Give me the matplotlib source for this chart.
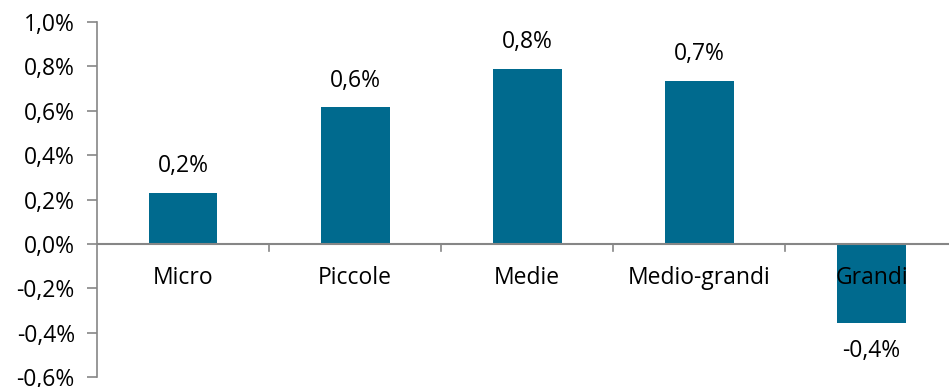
import matplotlib.pyplot as plt

categories = ["Micro", "Piccole", "Medie", "Medio-grandi", "Grandi"]
values = [0.23, 0.615, 0.79, 0.735, -0.355]
value_labels = ["0,2%", "0,6%", "0,8%", "0,7%", "-0,4%"]
y_ticks = [-0.6, -0.4, -0.2, 0.0, 0.2, 0.4, 0.6, 0.8, 1.0]
y_tick_labels = ["-0,6%", "-0,4%", "-0,2%", "0,0%", "0,2%", "0,4%", "0,6%", "0,8%", "1,0%"]

plt.rcParams['font.family'] = ['Open Sans', 'DejaVu Sans']
axis_grey = "#868686"
bar_color = "#006A8E"
fs = 16.5

fig = plt.figure(figsize=(9.49, 3.87), dpi=100)
ax = fig.add_axes([97 / 949, 10 / 387, 852 / 949, 355 / 387])

x = list(range(len(categories)))
ax.bar(x, values, width=0.4, color=bar_color, zorder=2)

ax.set_xlim(-0.5, 4.45)
ax.set_ylim(-0.6, 1.0)
ax.set_yticks(y_ticks)
ax.set_yticklabels(y_tick_labels, fontsize=fs)
ax.tick_params(axis='y', direction='out', length=7, color=axis_grey, width=1.2, pad=9)

for s in ['top', 'right', 'bottom']:
    ax.spines[s].set_visible(False)
ax.spines['left'].set_color(axis_grey)
ax.spines['left'].set_linewidth(1.2)

# zero line with category boundary ticks
ax.axhline(0, color=axis_grey, linewidth=1.5, zorder=3)
ax.set_xticks([])
for b in [0.5, 1.5, 2.5, 3.5]:
    ax.plot([b, b], [0, -0.03], color=axis_grey, linewidth=1.2, zorder=3)

for i, (v, lab) in enumerate(zip(values, value_labels)):
    if v >= 0:
        ax.text(i, v + 0.12, lab, ha='center', va='center', fontsize=fs, zorder=4)
    else:
        ax.text(i, v - 0.13, lab, ha='center', va='center', fontsize=fs, zorder=4)
    ax.text(i, -0.155, categories[i], ha='center', va='center', fontsize=fs, zorder=4)

fig.savefig("out.png", dpi=100)
